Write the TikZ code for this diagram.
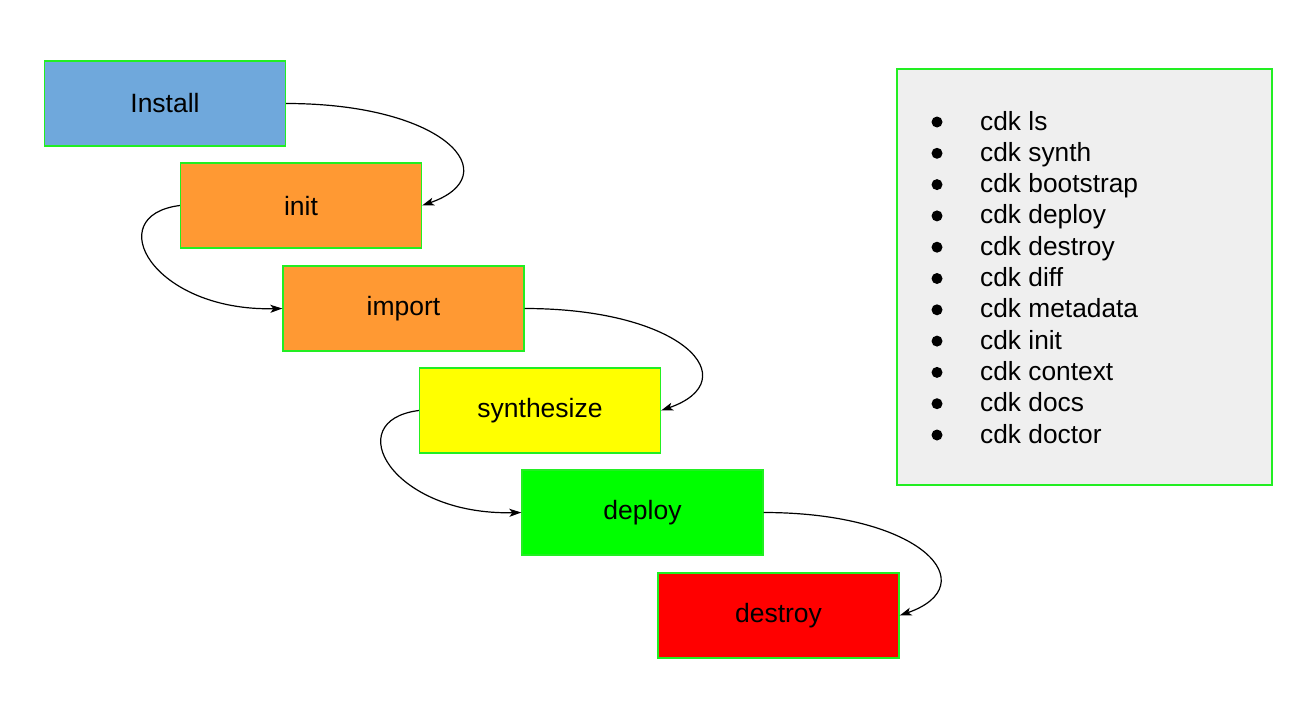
\documentclass[tikz,border=0pt]{standalone}
\usepackage{fontspec}
\setmainfont{Liberation Sans}
\usetikzlibrary{arrows.meta}
\definecolor{cblue}{HTML}{6FA8DC}
\definecolor{corange}{HTML}{FF9933}
\definecolor{cyellow}{HTML}{FFFF00}
\definecolor{cgreen}{HTML}{00FF00}
\definecolor{cred}{HTML}{FF0000}
\definecolor{cgray}{HTML}{EFEFEF}
\definecolor{cborder}{HTML}{22EE22}
\tikzset{
  stagebox/.style={draw=cborder, line width=1.3pt, minimum width=241pt, minimum height=85pt,
    inner sep=0pt, font=\fontsize{26.5}{31}\selectfont, text=black},
  flow/.style={draw=black, line width=1.2pt, -{Stealth[length=12pt,width=8pt,inset=3pt]}},
  item/.style={anchor=base west, inner sep=0pt, font=\fontsize{26.3}{31}\selectfont},
  dot/.style={fill=black, draw=none}
}
\begin{document}
\begin{tikzpicture}[x=1pt,y=-1pt]
\useasboundingbox (0,0) rectangle (1313,723);
\node[stagebox, fill=cblue]   (install) at (165,103.5) {Install};
\node[stagebox, fill=corange] (init)    at (301,205.5) {init};
\node[stagebox, fill=corange] (import)  at (403.5,308.5) {import};
\node[stagebox, fill=cyellow] (synth)   at (540,410.5) {synthesize};
\node[stagebox, fill=cgreen]  (deploy)  at (642.5,512.5) {deploy};
\node[stagebox, fill=cred]    (destroy) at (778.5,615.5) {destroy};

\draw[flow] (install.east) .. controls +(160,0) and +(86,-30) .. (init.east);
\draw[flow] (init.west) .. controls +(-80,10) and +(-130,3) .. (import.west);
\draw[flow] (import.east) .. controls +(160,0) and +(86,-30) .. (synth.east);
\draw[flow] (synth.west) .. controls +(-80,10) and +(-130,3) .. (deploy.west);
\draw[flow] (deploy.east) .. controls +(160,0) and +(86,-30) .. (destroy.east);

\node[draw=cborder, line width=1.3pt, fill=cgray, minimum width=375pt, minimum height=416pt, inner sep=0pt] (legend) at (1084.5,277) {};
\foreach \t [count=\i from 0] in {cdk ls, cdk synth, cdk bootstrap, cdk deploy, cdk destroy, cdk diff, cdk metadata, cdk init, cdk context, cdk docs, cdk doctor} {
  \fill[dot] (937,{130+31.3*\i-8}) circle (5.5);
  \node[item] (item\i) at (980,{130+31.3*\i}) {\t};
}
\end{tikzpicture}
\end{document}
